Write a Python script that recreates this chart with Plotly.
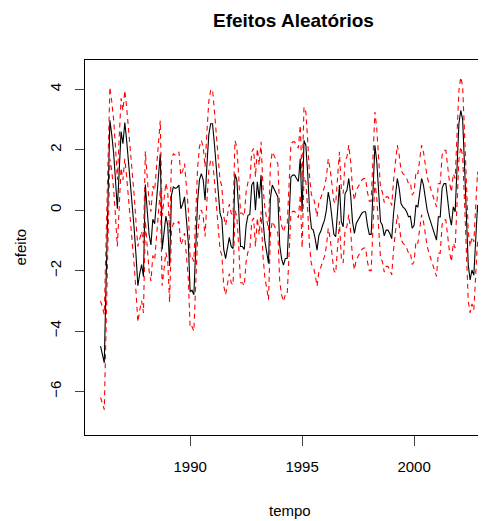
import plotly.graph_objects as go

# serie mensal, jan 1986 a dez 2002
ano_inicio = 1986
n_meses = 204
tempo = [ano_inicio + i / 12 for i in range(n_meses)]

efeito = [-4.5, -4.75, -5.05, -2.3, 0.5, 2.97, 2.5, 1.9, 1.0, 0.05, 1.3, 2.6, 2.2, 2.9, 2.3, 1.6, 0.9, 0.2, -0.6, -1.5,
          -2.5, -2.1, -1.8, -2.2, 0.85, 0.0, -0.8, -1.15, -0.3, -0.45, 0.3, 1.1, 1.87, -1.3, -0.7, -0.2, -0.5, -1.85, 0.5, 0.77,
          0.72, 0.75, 0.83, 0.05, 0.2, 0.44, -0.3, -1.05, -2.7, -2.65, -2.8, -1.3, 0.3, 1.0, 1.21, 1.0, 0.33, 1.5, 2.5, 2.86,
          2.86, 2.2, 1.4, 0.5, -0.1, -0.3, -1.3, -1.6, -1.3, -0.9, -1.2, -1.27, 1.2, 1.0, 0.05, -1.2, -1.2, -1.3, -0.5, -0.17,
          -0.14, 0.83, 0.94, 0.0, 0.94, 0.39, 1.16, -0.3, -1.0, -1.4, -1.76, 0.39, 0.83, 0.7, 0.55, 0.44, -1.16, -1.6, -1.82, -1.6,
          -1.6, 0.0, 1.1, 1.16, 1.16, 1.05, 0.95, 1.71, -0.05, 2.31, 2.15, 1.2, 0.0, -0.6, -0.66, -0.94, -1.32, -0.83, -0.7, -0.5,
          -0.33, 0.0, 0.6, 0.28, -0.38, -0.8, -0.88, 0.0, 0.83, -0.38, -0.55, 0.55, 0.66, 1.05, 0.5, -0.38, -0.77, -0.44, -0.33, -0.2,
          -0.1, -0.05, -0.05, -0.5, -0.8, -0.8, 0.7, 2.15, 1.6, 0.5, -0.38, -0.5, -0.85, -0.66, -0.66, -0.77, -0.94, -0.1, 0.5, 1.05,
          0.72, 0.22, 0.11, 0.05, -0.05, -0.22, -0.2, -0.6, -0.5, 0.17, 0.1, 0.5, 1.05, 0.83, 0.39, 0.0, -0.22, -0.4, -0.6, -0.8,
          -0.99, -0.22, -0.22, 0.72, 0.88, 0.88, 0.3, -0.2, -0.5, 0.11, -0.05, 1.32, 2.86, 3.3, 3.0, 1.5, -0.3, -1.8, -2.31, -1.98,
          -2.15, -1.05, 0.17, -0.3]

superior = [-3.0, -3.2, -3.45, -0.9, 1.8, 4.07, 3.6, 3.0, 2.1, 1.0, 2.4, 3.7, 3.3, 3.96, 3.4, 2.7, 2.0, 1.3, 0.5, -0.4,
            -1.2, -0.95, -0.7, -1.1, 1.95, 1.1, 0.3, -0.05, 0.8, 0.65, 1.4, 2.2, 2.97, -0.2, 0.4, 0.9, 0.6, -0.75, 1.6, 1.87,
            1.82, 1.85, 1.93, 1.15, 1.3, 1.54, 0.8, 0.05, -1.6, -1.55, -1.7, -0.2, 1.4, 2.1, 2.31, 2.1, 1.43, 2.6, 3.6, 3.96,
            4.0, 3.3, 2.5, 1.6, 1.0, 0.8, -0.2, -0.5, -0.2, 0.2, -0.1, -0.17, 2.3, 2.1, 1.15, -0.1, -0.1, -0.2, 0.6, 0.93,
            0.96, 1.93, 2.04, 1.1, 2.04, 1.49, 2.26, 0.8, 0.1, -0.3, -0.66, 1.49, 1.93, 1.8, 1.65, 1.54, -0.06, -0.5, -0.72, -0.5,
            -0.5, 1.1, 2.2, 2.26, 2.26, 2.15, 2.05, 2.81, 1.05, 3.41, 3.25, 2.3, 1.1, 0.5, 0.44, 0.16, -0.22, 0.27, 0.4, 0.6,
            0.77, 1.1, 1.7, 1.38, 0.72, 0.3, 0.22, 1.1, 1.93, 0.72, 0.55, 1.65, 1.76, 2.15, 1.6, 0.72, 0.33, 0.66, 0.77, 0.9,
            1.0, 1.05, 1.05, 0.6, 0.3, 0.3, 1.8, 3.25, 2.7, 1.6, 0.72, 0.6, 0.25, 0.44, 0.44, 0.33, 0.16, 1.0, 1.6, 2.15,
            1.82, 1.32, 1.21, 1.15, 1.05, 0.88, 0.9, 0.5, 0.6, 1.27, 1.2, 1.6, 2.15, 1.93, 1.49, 1.1, 0.88, 0.7, 0.5, 0.3,
            0.11, 0.88, 0.88, 1.82, 1.98, 1.98, 1.4, 0.9, 0.6, 1.21, 1.05, 2.42, 3.96, 4.4, 4.1, 2.6, 0.8, -0.7, -1.21, -0.88,
            -1.05, 0.05, 1.27, 0.8]

inferior = [-6.2, -6.4, -6.6, -3.8, -0.9, 1.7, 1.3, 0.7, -0.2, -1.2, 0.1, 1.4, 1.0, 1.7, 1.1, 0.4, -0.3, -1.0, -1.8, -2.7,
            -3.7, -3.3, -3.0, -3.4, -0.35, -1.2, -2.0, -2.35, -1.5, -1.65, -0.9, -0.1, 0.67, -2.5, -1.9, -1.4, -1.7, -3.05, -0.7, -0.43,
            -0.48, -0.45, -0.37, -1.15, -1.0, -0.76, -1.5, -2.25, -3.9, -3.85, -4.0, -2.5, -0.9, -0.2, 0.01, -0.2, -0.87, 0.3, 1.3, 1.66,
            1.66, 1.0, 0.2, -0.7, -1.3, -1.5, -2.5, -2.8, -2.5, -2.1, -2.4, -2.47, 0.0, -0.2, -1.15, -2.4, -2.4, -2.5, -1.7, -1.37,
            -1.34, -0.37, -0.26, -1.2, -0.26, -0.81, -0.04, -1.5, -2.2, -2.6, -2.96, -0.81, -0.37, -0.5, -0.65, -0.76, -2.36, -2.8, -3.02, -2.8,
            -2.8, -1.2, -0.1, -0.04, -0.04, -0.15, -0.25, 0.51, -1.25, 1.11, 0.95, 0.0, -1.2, -1.8, -1.86, -2.14, -2.52, -2.03, -1.9, -1.7,
            -1.53, -1.2, -0.6, -0.92, -1.58, -2.0, -2.08, -1.2, -0.37, -1.58, -1.75, -0.65, -0.54, -0.15, -0.7, -1.58, -1.97, -1.64, -1.53, -1.4,
            -1.3, -1.25, -1.25, -1.7, -2.0, -2.0, -0.5, 0.95, 0.4, -0.7, -1.58, -1.7, -2.05, -1.86, -1.86, -1.97, -2.14, -1.3, -0.7, -0.15,
            -0.48, -0.98, -1.09, -1.15, -1.25, -1.42, -1.4, -1.8, -1.7, -1.03, -1.1, -0.7, -0.15, -0.37, -0.81, -1.2, -1.42, -1.6, -1.8, -2.0,
            -2.19, -1.42, -1.42, -0.48, -0.32, -0.32, -0.9, -1.4, -1.7, -1.09, -1.25, 0.12, 1.66, 2.1, 1.8, 0.3, -1.5, -3.0, -3.4, -3.1,
            -3.3, -2.2, -1.0, -1.45]

x_ticks = [1990, 1995, 2000]
y_ticks = [-6, -4, -2, 0, 2, 4]

fonte = "Liberation Sans, Arial, sans-serif"

fig = go.Figure()
fig.add_trace(go.Scatter(x=tempo, y=efeito, mode="lines", line=dict(color="black", width=1.1)))
fig.add_trace(go.Scatter(x=tempo, y=superior, mode="lines", line=dict(color="red", width=1.1, dash="5px,4px")))
fig.add_trace(go.Scatter(x=tempo, y=inferior, mode="lines", line=dict(color="red", width=1.1, dash="5px,4px")))

# a pagina html tem 8px de margem no body, por isso a figura e menor
fig.update_layout(
    width=478, height=513,
    margin=dict(l=77, r=0, t=52, b=86),
    paper_bgcolor="white", plot_bgcolor="white",
    showlegend=False,
    font=dict(family=fonte, size=15, color="black"),
)
fig.update_xaxes(range=[1985.306, 2003.21], tickvals=x_ticks, ticks="outside", ticklen=10,
                 tickcolor="#444", showline=True, linecolor="black", linewidth=1, mirror=True,
                 showgrid=False, zeroline=False, ticklabelstandoff=8)
fig.update_yaxes(range=[-7.44, 4.97], tickvals=y_ticks, ticks="outside", ticklen=9,
                 tickcolor="#444", showline=True, linecolor="black", linewidth=1,
                 showgrid=False, zeroline=False, tickangle=-90, ticklabelstandoff=8)

fig.add_annotation(text="<b>Efeitos Aleatórios</b>", xref="paper", yref="paper", x=0.519, y=1,
                   yanchor="middle", yshift=40, showarrow=False, font=dict(size=19))
fig.add_annotation(text="tempo", xref="paper", yref="paper", x=0.511, y=0,
                   yanchor="middle", yshift=-75, showarrow=False, font=dict(size=15))
fig.add_annotation(text="efeito", xref="paper", yref="paper", x=0, y=0.5,
                   xanchor="center", xshift=-65, textangle=-90, showarrow=False, font=dict(size=15))

fig.write_html("out.html")
